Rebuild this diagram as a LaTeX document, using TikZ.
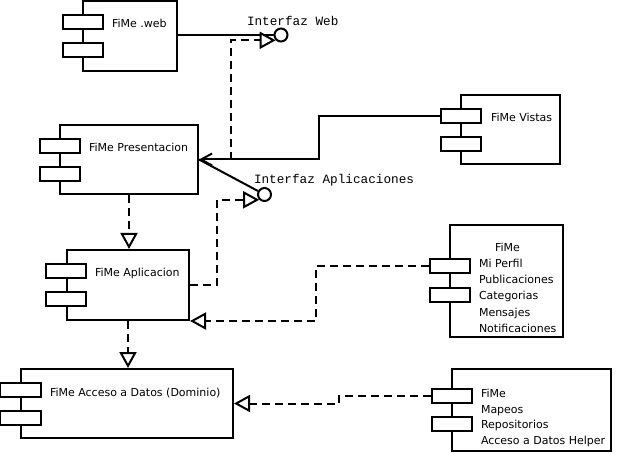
\documentclass[tikz,border=0pt]{standalone}
\usepackage{fontspec}
\setmainfont{DejaVu Sans}
\newfontfamily\monof{Liberation Mono}
\usetikzlibrary{arrows.meta}
\begin{document}
\begin{tikzpicture}[x=1bp,y=-1bp,
  line width=2bp,
  comp/.style={draw, rectangle, inner sep=0, fill=white},
  port/.style={draw, rectangle, inner sep=0, minimum width=40bp, minimum height=14bp, fill=white},
  lbl/.style={anchor=base west, inner sep=0, font=\fontsize{11bp}{13bp}\selectfont},
  iface/.style={draw, circle, inner sep=0, minimum size=13bp, fill=white},
  ilbl/.style={anchor=base west, inner sep=0, font=\monof\fontsize{12.7bp}{14bp}\selectfont},
  dep/.style={dash pattern=on 8bp off 5bp, -{Triangle[open, length=16bp, width=17bp, fill=white]}},
  assoc/.style={-{Straight Barb[length=11bp, width=12bp]}}]
\useasboundingbox (0,0) rectangle (617,453);
\fill[white] (0,0) rectangle (617,453);

% components
\node[comp, minimum width=94bp, minimum height=70bp] (web) at (130,36) {};
\node[port] (web1) at (83,22) {};
\node[port] (web2) at (83,50) {};

\node[comp, minimum width=138bp, minimum height=69bp] (pres) at (129,159.5) {};
\node[port] (pres1) at (60,146) {};
\node[port] (pres2) at (60,174) {};

\node[comp, minimum width=99bp, minimum height=69bp] (vis) at (510.5,129.5) {};
\node[port] (vis1) at (461,116) {};
\node[port] (vis2) at (461,144) {};

\node[comp, minimum width=122bp, minimum height=70bp] (apl) at (128,285) {};
\node[port] (apl1) at (66,271) {};
\node[port] (apl2) at (66,299) {};

\node[comp, minimum width=113bp, minimum height=112bp] (pf) at (506.5,281) {};
\node[port] (pf1) at (450,266) {};
\node[port] (pf2) at (450,295) {};

\node[comp, minimum width=212bp, minimum height=69bp] (dat) at (127,403.5) {};
\node[port, minimum width=41bp] (dat1) at (20.5,390) {};
\node[port, minimum width=41bp] (dat2) at (20.5,418) {};

\node[comp, minimum width=159bp, minimum height=82bp] (hp) at (531.5,410) {};
\node[port] (hp1) at (452,396) {};
\node[port] (hp2) at (452,424) {};

% interfaces
\node[iface] (iw) at (281,35) {};
\node[iface] (ia) at (264.5,194.5) {};

% connectors
\draw (web.east |- iw) -- (iw.west);
\draw[assoc] (vis1.west) -- ++(-121,0) |- (pres.east);
\coordinate (j1) at (231,160);
\draw[dep] (j1) |- (iw.225);
\draw (ia) -- (pres.east);
\draw[dep] (apl.east) -- ++(27,0) |- (ia.225);
\draw[dep] (pres.south) -- (pres.south |- apl.north);
\draw[dep] (pf1.west) -- ++(-113,0) |- (apl.south east);
\draw[dep] (apl.south) -- (apl.south |- dat.north);
\draw[dep] (hp1.west) -- ++(-92,0) |- (dat.east);

% labels
\node[lbl] (tweb) at (111,28) {FiMe .web};
\node[lbl] (tpres) at (88,152) {FiMe Presentacion};
\node[lbl] (tvis) at (490,122) {FiMe Vistas};
\node[lbl] (tapl) at (94,277) {FiMe Aplicacion};
\node[lbl] (tdat) at (49,396) {FiMe Acceso a Datos (Dominio)};

\node[lbl, anchor=base] (tpf0) at (507.5,252) {FiMe};
\node[lbl] (tpf1) at (478,268) {Mi Perfil};
\node[lbl] (tpf2) at (478,284) {Publicaciones};
\node[lbl] (tpf3) at (478,300) {Categorias};
\node[lbl] (tpf4) at (478,316) {Mensajes};
\node[lbl] (tpf5) at (478,332) {Notificaciones};

\node[lbl] (thp0) at (480,397) {FiMe};
\node[lbl] (thp1) at (480,413) {Mapeos};
\node[lbl] (thp2) at (480,428.5) {Repositorios};
\node[lbl] (thp3) at (480,444) {Acceso a Datos Helper};

\node[ilbl] (tiw) at (246,26) {Interfaz Web};
\node[ilbl] (tia) at (253,183.5) {Interfaz Aplicaciones};
\end{tikzpicture}
\end{document}
